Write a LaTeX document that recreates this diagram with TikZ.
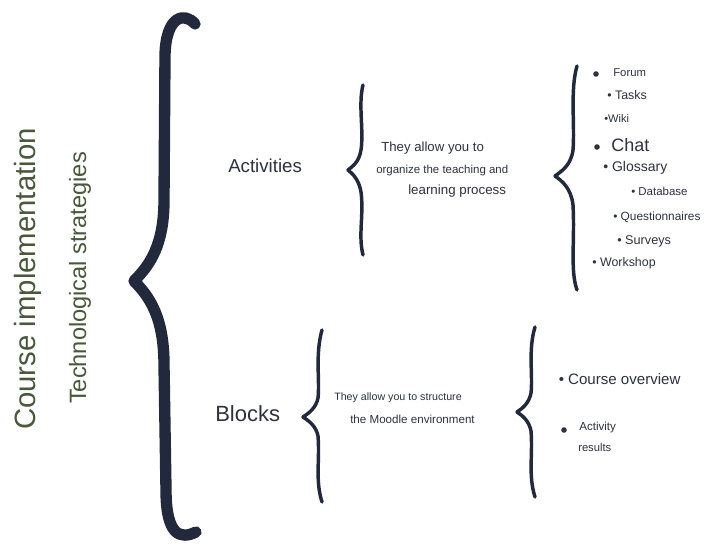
\documentclass[tikz,border=0pt]{standalone}
\usepackage{fontspec}
\setmainfont{Liberation Sans}
\usetikzlibrary{positioning}
\definecolor{inkblue}{RGB}{34,41,60}
\definecolor{labeltext}{RGB}{45,50,62}
\definecolor{olive}{RGB}{72,88,58}
\tikzset{
    x=0.75pt, y=-0.75pt, % one unit is one pixel of the reference
    every node/.style={inner sep=0pt, text=labeltext}, % plain text nodes
    item/.style={anchor=base west}, % text placed by its baseline
    side title/.style={rotate=90, text=olive}, % the rotated titles on the left
    big brace/.style={draw=inkblue, line width=8.5pt, line cap=round, line join=round},
    small brace/.style={draw=inkblue, line width=2.6pt, line cap=round, line join=round},
    bigdot/.style={circle, fill=labeltext, minimum size=4.2pt}, % the larger bullets
    }
\newcommand{\fs}[1]{\fontsize{#1}{#1}\selectfont}

\begin{document}
\begin{tikzpicture}
\useasboundingbox[fill=white] (0,0) rectangle (721,548);

% titles on the left
\node[side title] (course) at (28,279) {\fs{22pt}Course implementation};
\node[side title] (strategies) at (80,278) {\fs{17.7pt}Technological strategies};

% the big brace
\draw[big brace] (195,24) .. controls (185,12) and (166,15) .. (165,55)
    -- (164,200) .. controls (164,245) and (150,265) .. (134,281)
    .. controls (150,297) and (164,318) .. (164,365)
    -- (166,490) .. controls (166,535) and (180,540) .. (196,532);

% two kinds of modules
\node[item] (activities) at (228,173) {\fs{14pt}Activities};
\node[item] (blocks) at (215,422) {\fs{16.5pt}Blocks};

% activities
\draw[small brace] (363,85) .. controls (358,105) and (364,130) .. (361,150)
    .. controls (359,162) and (353,166) .. (348,170)
    .. controls (353,174) and (359,180) .. (361,192)
    .. controls (364,215) and (358,235) .. (363,255);
\node[item] (actdesc1) at (381,152) {\fs{9.9pt}They allow you to};
\node[item] (actdesc2) at (376,173.5) {\fs{8.6pt}organize the teaching and};
\node[item] (actdesc3) at (408,195) {\fs{10pt}learning process};

\draw[small brace] (577,66) .. controls (570,90) and (575,125) .. (573,150)
    .. controls (571,165) and (562,171) .. (555,176)
    .. controls (562,181) and (571,188) .. (573,205)
    .. controls (575,240) and (570,270) .. (577,290);

\node[bigdot] (forumdot) at (596,74) {};
\node[item] (forum) at (613,76.5) {\fs{8.5pt}Forum};
\node[item] (tasks) at (607,100) {\fs{9.3pt}• Tasks};
\node[item] (wiki) at (604,123) {\fs{8.3pt}•Wiki};
\node[bigdot] (chatdot) at (597,147) {};
\node[item] (chat) at (611,152) {\fs{13.5pt}Chat};
\node[item] (glossary) at (603,172) {\fs{10.5pt}• Glossary};
\node[item] (database) at (631,195.5) {\fs{8.6pt}• Database};
\node[item] (questionnaires) at (613,220.5) {\fs{8.9pt}• Questionnaires};
\node[item] (surveys) at (617,245) {\fs{9.5pt}• Surveys};
\node[item] (workshop) at (592,267) {\fs{9.3pt}• Workshop};

% blocks
\draw[small brace] (322,330) .. controls (315,355) and (320,380) .. (318,398)
    .. controls (316,408) and (309,413) .. (303,417)
    .. controls (309,421) and (316,426) .. (318,436)
    .. controls (320,460) and (315,480) .. (322,502);
\node[item] (blkdesc1) at (334,401) {\fs{8pt}They allow you to structure};
\node[item] (blkdesc2) at (350,423.5) {\fs{8.7pt}the Moodle environment};

\draw[small brace] (535,327) .. controls (528,350) and (533,375) .. (531,393)
    .. controls (529,403) and (523,408) .. (517,412)
    .. controls (523,416) and (529,421) .. (531,431)
    .. controls (533,455) and (528,475) .. (535,497);

\node[item] (overview) at (558.5,384.5) {\fs{11.3pt}• Course overview};
\node[bigdot] (activitydot) at (564,430) {};
\node[item] (activity) at (579,430.5) {\fs{8.7pt}Activity};
\node[item] (results) at (578,451.5) {\fs{8.4pt}results};

\end{tikzpicture}
\end{document}
